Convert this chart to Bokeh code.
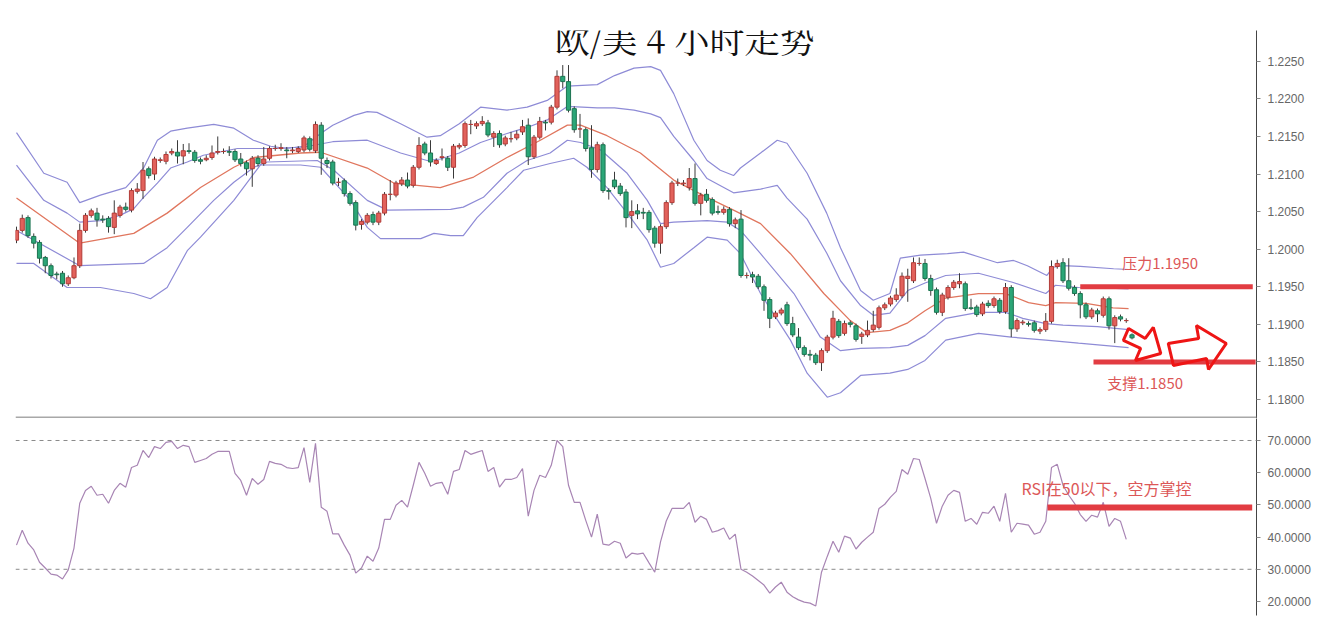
from bokeh.plotting import figure
from bokeh.models import Range1d, FixedTicker, NumeralTickFormatter, Span, Label, ColumnDataSource
from bokeh.layouts import column
from bokeh.embed import file_html
from bokeh.resources import INLINE

# ---------------- data ----------------
open_ = [1.2012,1.2025,1.2042,1.2017,1.2009,1.1989,1.1978,1.1967,1.1968,1.1954,
         1.1962,1.1978,1.2025,1.2045,1.2048,1.2040,1.2041,1.2029,1.2045,1.2056,
         1.2052,1.2077,1.2078,1.2107,1.2100,1.2118,1.2117,1.2128,1.2129,1.2124,
         1.2131,1.2129,1.2119,1.2119,1.2122,1.2129,1.2130,1.2130,1.2130,1.2120,
         1.2115,1.2107,1.2121,1.2114,1.2121,1.2134,1.2134,1.2132,1.2131,1.2130,
         1.2132,1.2147,1.2131,1.2165,1.2118,1.2116,1.2089,1.2091,1.2074,1.2062,
         1.2033,1.2036,1.2046,1.2036,1.2048,1.2073,1.2072,1.2087,1.2092,1.2085,
         1.2109,1.2140,1.2128,1.2114,1.2122,1.2121,
         1.2109,1.2136,1.2138,1.2166,1.2164,1.2167,1.2168,1.2149,1.2154,1.2140,
         1.2147,1.2148,1.2156,1.2165,1.2123,1.2149,1.2169,1.2169,1.2189,1.2230,
         1.2223,1.2187,1.2160,1.2159,1.2135,1.2106,1.2139,1.2078,1.2092,1.2084,
         1.2076,1.2045,1.2051,1.2049,1.2049,1.2028,1.2008,1.2030,1.2062,1.2088,
         1.2087,1.2082,1.2094,1.2061,1.2073,1.2066,1.2050,1.2049,1.2053,1.2034,
         1.2040,1.1965,1.1966,1.1964,1.1950,1.1933,1.1910,1.1915,1.1926,1.1901,
         1.1883,1.1869,1.1860,1.1859,1.1849,1.1865,1.1883,1.1904,1.1888,1.1902,
         1.1898,1.1884,1.1886,1.1893,1.1896,1.1922,1.1927,
         1.1933,1.1938,1.1961,1.1958,1.1981,1.1981,1.1961,1.1946,1.1916,1.1936,
         1.1949,1.1954,1.1954,1.1922,1.1923,1.1914,1.1928,1.1925,1.1932,1.1917,
         1.1949,1.1894,1.1902,1.1901,1.1902,1.1891,1.1893,1.1904,1.1977,1.1982,
         1.1958,1.1949,1.1941,1.1926,1.1910,1.1918,1.1912,1.1934,1.1898,1.1910,
         1.1905,1.1886]
close_ = [1.2025,1.2041,1.2018,1.2008,1.1988,1.1978,1.1965,1.1966,1.1954,1.1962,
          1.1978,1.2025,1.2045,1.2051,1.2039,1.2039,1.2030,1.2048,1.2056,1.2053,
          1.2078,1.2080,1.2105,1.2098,1.2120,1.2119,1.2126,1.2130,1.2124,1.2131,
          1.2130,1.2118,1.2117,1.2121,1.2128,1.2130,1.2130,1.2129,1.2119,1.2114,
          1.2107,1.2121,1.2114,1.2120,1.2134,1.2134,1.2135,1.2131,1.2132,1.2134,
          1.2148,1.2133,1.2166,1.2121,1.2114,1.2088,1.2089,1.2074,1.2061,1.2032,
          1.2037,1.2045,1.2036,1.2048,1.2073,1.2073,1.2088,1.2092,1.2084,1.2109,
          1.2138,1.2128,1.2116,1.2118,1.2123,1.2109,
          1.2137,1.2138,1.2167,1.2166,1.2167,1.2170,1.2152,1.2154,1.2139,1.2148,
          1.2147,1.2153,1.2163,1.2123,1.2149,1.2170,1.2168,1.2189,1.2230,1.2223,
          1.2185,1.2159,1.2160,1.2134,1.2106,1.2139,1.2078,1.2077,1.2083,1.2074,
          1.2042,1.2050,1.2047,1.2048,1.2026,1.2008,1.2030,1.2062,1.2088,1.2088,
          1.2088,1.2094,1.2061,1.2072,1.2065,1.2048,1.2049,1.2053,1.2034,1.2039,
          1.1965,1.1965,1.1963,1.1950,1.1932,1.1908,1.1915,1.1919,1.1901,1.1886,
          1.1869,1.1860,1.1859,1.1849,1.1865,1.1883,1.1908,1.1885,1.1901,1.1900,
          1.1880,1.1887,1.1892,1.1899,1.1922,1.1926,1.1935,
          1.1939,1.1964,1.1964,1.1982,1.1981,1.1961,1.1945,1.1916,1.1939,1.1949,
          1.1956,1.1957,1.1921,1.1921,1.1913,1.1927,1.1925,1.1934,1.1917,1.1949,
          1.1894,1.1905,1.1903,1.1900,1.1892,1.1893,1.1904,1.1977,1.1981,1.1958,
          1.1948,1.1941,1.1926,1.1910,1.1919,1.1914,1.1934,1.1898,1.1909,1.1907,
          1.1905,1.1882]
high_ = [1.2030,1.2046,1.2045,1.2021,1.2012,1.1991,1.1981,1.1970,1.1971,1.1965,
         1.1989,1.2034,1.2048,1.2054,1.2055,1.2045,1.2044,1.2065,1.2059,1.2062,
         1.2081,1.2088,1.2116,1.2110,1.2123,1.2122,1.2130,1.2134,1.2145,1.2140,
         1.2141,1.2132,1.2122,1.2125,1.2138,1.2150,1.2134,1.2137,1.2133,1.2128,
         1.2118,1.2124,1.2125,1.2136,1.2137,1.2139,1.2141,1.2136,1.2136,1.2137,
         1.2151,1.2150,1.2170,1.2169,1.2122,1.2119,1.2095,1.2094,1.2077,1.2065,
         1.2040,1.2048,1.2050,1.2051,1.2076,1.2092,1.2091,1.2096,1.2102,1.2112,
         1.2149,1.2143,1.2145,1.2121,1.2134,1.2124,
         1.2140,1.2141,1.2170,1.2172,1.2170,1.2177,1.2172,1.2157,1.2158,1.2151,
         1.2156,1.2158,1.2172,1.2174,1.2152,1.2176,1.2172,1.2192,1.2238,1.2245,
         1.2245,1.2190,1.2180,1.2162,1.2165,1.2143,1.2142,1.2081,1.2103,1.2088,
         1.2080,1.2065,1.2060,1.2055,1.2052,1.2031,1.2033,1.2065,1.2091,1.2094,
         1.2092,1.2108,1.2114,1.2075,1.2080,1.2069,1.2058,1.2057,1.2056,1.2042,
         1.2052,1.1969,1.1970,1.1967,1.1953,1.1936,1.1918,1.1922,1.1930,1.1910,
         1.1895,1.1872,1.1866,1.1862,1.1868,1.1886,1.1918,1.1907,1.1905,1.1905,
         1.1901,1.1890,1.1905,1.1918,1.1925,1.1929,1.1938,
         1.1948,1.1969,1.1974,1.1989,1.1989,1.1987,1.1966,1.1949,1.1942,1.1952,
         1.1959,1.1968,1.1957,1.1934,1.1926,1.1930,1.1932,1.1937,1.1935,1.1955,
         1.1952,1.1908,1.1906,1.1904,1.1905,1.1896,1.1915,1.1985,1.1986,1.1988,
         1.1988,1.1952,1.1944,1.1929,1.1922,1.1921,1.1937,1.1937,1.1912,1.1913,
         1.1908,1.1888]
low_ = [1.2008,1.2022,1.2015,1.2001,1.1981,1.1968,1.1961,1.1960,1.1950,1.1951,
        1.1960,1.1975,1.2022,1.2042,1.2030,1.2035,1.2022,1.2020,1.2042,1.2050,
        1.2049,1.2074,1.2067,1.2094,1.2092,1.2115,1.2113,1.2125,1.2114,1.2113,
        1.2127,1.2115,1.2113,1.2117,1.2119,1.2126,1.2127,1.2124,1.2116,1.2110,
        1.2098,1.2083,1.2110,1.2111,1.2118,1.2131,1.2131,1.2121,1.2128,1.2128,
        1.2129,1.2130,1.2128,1.2099,1.2108,1.2085,1.2084,1.2070,1.2058,1.2025,
        1.2026,1.2033,1.2032,1.2032,1.2045,1.2065,1.2069,1.2084,1.2081,1.2082,
        1.2106,1.2125,1.2110,1.2112,1.2118,1.2104,
        1.2094,1.2133,1.2135,1.2153,1.2160,1.2164,1.2149,1.2136,1.2135,1.2137,
        1.2142,1.2145,1.2152,1.2112,1.2120,1.2146,1.2158,1.2166,1.2186,1.2214,
        1.2182,1.2155,1.2148,1.2130,1.2095,1.2102,1.2075,1.2066,1.2080,1.2071,
        1.2029,1.2028,1.2040,1.2040,1.2022,1.2002,1.1994,1.2027,1.2059,1.2084,
        1.2084,1.2078,1.2058,1.2045,1.2062,1.2045,1.2046,1.2046,1.2030,1.2028,
        1.1962,1.1961,1.1955,1.1947,1.1918,1.1895,1.1907,1.1912,1.1898,1.1883,
        1.1866,1.1857,1.1852,1.1846,1.1838,1.1862,1.1880,1.1882,1.1885,1.1896,
        1.1877,1.1874,1.1883,1.1890,1.1893,1.1919,1.1924,
        1.1930,1.1935,1.1930,1.1955,1.1978,1.1958,1.1938,1.1913,1.1911,1.1933,
        1.1946,1.1948,1.1918,1.1919,1.1910,1.1911,1.1922,1.1922,1.1914,1.1914,
        1.1883,1.1890,1.1899,1.1897,1.1889,1.1887,1.1890,1.1901,1.1974,1.1955,
        1.1945,1.1938,1.1908,1.1907,1.1907,1.1903,1.1909,1.1893,1.1875,1.1904,
        1.1902,1.1880]

# Bollinger band lines, read as (candle index, price) points
ou_x = [0,4.75,8.8,11,14.6,19,22.1,24.5,26.8,29.7,34.3,37.8,41.2,44.2,47,50,52.9,55,58.7,61,
        62.7,66.8,71.4,73.7,77,80.7,85.3,88.8,92.3,95.8,101,104,107.4,110.3,112,114.3,117.8,120.1,122.4,124.7,
        125.9,129.4,132.3,134,137.5,140.9,143.3,146.8,149,151.9,153.7,157.2,161.9,164.7,167.7,170.6,173.4,175.8,179.2,180.3,
        181.9,185,190.8,193.4]
ou_y = [1.2155,1.2101,1.2089,1.2062,1.2072,1.2082,1.2108,1.2145,1.2157,1.2161,1.2166,1.2161,1.2145,1.2137,1.2134,1.2137,1.2154,1.2165,1.2178,1.2183,
        1.2182,1.2167,1.2149,1.2151,1.2167,1.2189,1.2185,1.2189,1.2198,1.2217,1.2219,1.2231,1.2241,1.2243,1.2238,1.2207,1.2145,1.2118,1.2105,1.2098,
        1.2108,1.2128,1.2145,1.2141,1.2101,1.2048,1.2002,1.1945,1.1932,1.1941,1.1988,1.1992,1.1994,1.1996,1.1989,1.1982,1.1985,1.1978,1.1965,1.1976,
        1.1978,1.1977,1.1974,1.1973]
iu_x = [0,4.75,8.8,11,14.6,18,20.4,22.1,24.5,26.8,29.7,32.5,38.4,44.2,50,55,61,66.8,71.4,73.7,
        77,80.7,85.3,88.8,92.3,95.8,101,104,107.4,110.3,112,114.3,117.8,120.1,124.7,129.4,132.3,134,137.5,140.9,
        143.3,146.8,149,151.9,155,158,161.6,167.3,173.2,179,180.7,184.7,190,193.4]
iu_y = [1.2112,1.2065,1.2048,1.2036,1.2038,1.2045,1.2054,1.2069,1.2088,1.2108,1.2116,1.2125,1.2134,1.2134,1.2136,1.2143,1.2145,1.2128,1.2118,1.2120,
        1.2128,1.2142,1.2154,1.2162,1.2172,1.2190,1.2188,1.2188,1.2185,1.2180,1.2175,1.2150,1.2118,1.2094,1.2075,1.2080,1.2085,1.2068,1.2040,1.1995,
        1.1958,1.1925,1.1912,1.1915,1.1945,1.1955,1.1965,1.1968,1.1956,1.1941,1.1952,1.1949,1.1948,1.1947]
mid_x = [0,11,20.4,26.2,32,37.8,41.3,49.4,52.9,61,65.6,73.7,79.5,85.3,91.1,95.8,98.1,102.7,108.5,114.3,
         120.1,124.7,129.4,134.6,140.4,145,147.9,151.9,155,158,161.6,167.3,172,176,179,180.7,186,190.7,193.4]
mid_y = [1.2068,1.2008,1.2021,1.2048,1.2082,1.2109,1.2122,1.2128,1.2129,1.2108,1.2088,1.2082,1.2096,1.2122,1.2145,1.2165,1.2165,1.2151,1.2128,1.2092,
         1.2069,1.2052,1.2034,1.1994,1.1941,1.1905,1.1889,1.1892,1.1902,1.1918,1.1935,1.1941,1.1941,1.1929,1.1925,1.1929,1.1928,1.1922,1.1921]
il_x = [0,11,22.1,26.2,29.7,34.3,37.8,41.3,43.6,52.3,55.2,61,64.5,75.5,77.7,81.2,85.3,88.8,92.8,95.8,
        98.1,101.6,106.2,109.7,112,114.3,120.1,123.6,125.9,129.4,135.2,139.8,143.3,146.8,151.9,155,158,161.6,167.3,172,
        175,179,182,188,193.4]
il_y = [1.2025,1.1978,1.1981,1.2002,1.2029,1.2065,1.2089,1.2109,1.2116,1.2118,1.2105,1.2065,1.2052,1.2053,1.2056,1.2069,1.2101,1.2118,1.2128,1.2145,
        1.2142,1.2132,1.2101,1.2065,1.2034,1.2036,1.2038,1.2036,1.2025,1.1994,1.1941,1.1883,1.1865,1.1868,1.1869,1.1872,1.1885,1.1908,1.1916,1.1916,
        1.1908,1.1901,1.1899,1.1897,1.1893]
ol_x = [0,3,8.8,14.6,20.4,23.3,26.2,29.7,32,37.8,42.4,49.4,52.9,58.1,61,63.3,70.3,72.6,75.5,77.7,
        80.1,85.3,88.2,92.8,96.9,99.2,102.7,106.2,109.7,112,114.3,117.8,120.1,123.6,125.9,129.4,134.6,137.5,141,143.3,
        146.8,151.9,155,158,161.6,167.3,173,179,184.7,193.4]
ol_y = [1.1981,1.1981,1.1949,1.1949,1.1941,1.1934,1.1949,1.1998,1.2016,1.2065,1.2112,1.2112,1.2109,1.2065,1.2029,1.2014,1.2014,1.2021,1.2018,1.2018,
        1.2042,1.2082,1.2105,1.2114,1.2121,1.2109,1.2082,1.2048,1.2012,1.1976,1.1981,1.2002,1.2016,1.2012,1.1994,1.1941,1.1879,1.1835,1.1803,1.1809,
        1.1832,1.1835,1.1840,1.1852,1.1879,1.1888,1.1883,1.1879,1.1875,1.1869]

rsi = [37.5,42.1,38.1,36,32.2,30.4,28.5,28.2,27,29.8,
       36.6,50.5,54.5,55.8,53,53.3,50.5,54.5,56.7,55.5,
       61.6,62.3,66.9,64.7,68.1,67.5,69.4,69.7,67.5,68.5,
       68.1,63.2,63.8,64.4,65.7,66.6,66.6,66.6,59.8,57.6,
       53,58.2,56.4,57.9,63.5,62.9,62.6,61.6,61.3,61.6,
       67.8,57,69.1,49.3,48,41,41,37.5,34.4,28.8,
       30.4,34.1,32.5,36.6,45.5,45.5,49.9,51.4,49.3,56.1,
       63.2,59.8,55.8,56.7,57,53.3,60.4,61,66.9,65.7,
       66.3,66.9,60.4,61.6,55.5,57.9,57.9,58.5,61.3,46.5,
       54.5,59.2,58.5,62.3,70,68.1,56.1,50.8,50.8,45.2,
       40,47.1,37.8,37.5,38.7,38.1,33.5,35,34.7,35,
       32,29.1,38.5,45,48.9,48.9,48.9,50.8,44.6,46.5,
       45.5,41.5,42,42.8,39.3,40.9,30,29.1,27.9,26.5,
       25.1,22.6,24.5,26,22.9,21.5,20.5,19.8,19.5,18.6,
       29.1,34,38.7,35.3,40.3,39.7,36.3,38.4,40,41.5,
       48.9,50.2,52.4,54.2,61,59.5,64.4,64.1,58.2,52,
       44.3,49.6,53,54.5,53.9,44.9,45.8,44,47.7,47.4,
       49.6,44.9,53.6,41.5,44.3,44,43.7,40.9,41.5,44.9,
       61.6,62.6,56.1,53,50.5,47,44.9,46.8,46.2,50.8,
       43.3,45.8,44.9,39.3]

price_ticks = [1.1800, 1.1850, 1.1900, 1.1950, 1.2000, 1.2050, 1.2100, 1.2150, 1.2200, 1.2250]
rsi_ticks = [20, 30, 40, 50, 60, 70]
rsi_levels = [70, 30]
resistance = 1.1950
support = 1.1850
rsi_mark = 49.2
title_text = "欧/美 4 小时走势"
res_text = "压力1.1950"
sup_text = "支撑1.1850"
rsi_text = "RSI在50以下，空方掌控"

# hollow arrow annotations (candle index, price)
arrow1_x = [193.4, 196.3, 197.7, 199.0, 194.6, 195.5, 192.5]
arrow1_y = [1.18945, 1.18812, 1.18959, 1.18612, 1.18519, 1.18679, 1.18786]
arrow2_x = [200.3, 205.6, 205.2, 210.4, 207.3, 206.96, 201.2]
arrow2_y = [1.18746, 1.18812, 1.18985, 1.18746, 1.18399, 1.18546, 1.18453]

# ---------------- build ----------------
idx = list(range(len(close_)))
up = [c >= o for o, c in zip(open_, close_)]
src = ColumnDataSource(dict(
    x=idx, o=open_, h=high_, l=low_, c=close_,
    top=[max(o, c) for o, c in zip(open_, close_)],
    bot=[min(o, c) for o, c in zip(open_, close_)],
    fill=["#e2615b" if u else "#2ba677" for u in up],
    edge=["#b23c38" if u else "#1c7350" for u in up],
))

x_rng = Range1d(-0.174, 215.65)
FONT = "Liberation Sans"
RED = "#e23c42"
TXT = "#dc5757"

p = figure(width=1318, height=418, x_range=x_rng, y_range=Range1d(1.17747, 1.2291),
           output_backend="svg", toolbar_location=None, y_axis_location="right",
           min_border_left=15, min_border_right=62, min_border_top=30, min_border_bottom=0)
p.xaxis.visible = False
p.grid.visible = False
p.outline_line_color = None
p.background_fill_color = "white"

band_col = "#8e8bd6"
p.line(ou_x, ou_y, line_color=band_col, line_width=1.2)
p.line(iu_x, iu_y, line_color=band_col, line_width=1.2)
p.line(il_x, il_y, line_color=band_col, line_width=1.2)
p.line(ol_x, ol_y, line_color=band_col, line_width=1.2)
p.line(mid_x, mid_y, line_color="#e0765e", line_width=1.3)

p.segment(x0="x", y0="h", x1="x", y1="l", source=src, line_color="#3a3a3a", line_width=1)
p.vbar(x="x", top="top", bottom="bot", width=0.72, source=src,
       fill_color="fill", line_color="edge", line_width=1)

p.segment(x0=[185.0], y0=[resistance], x1=[215.0], y1=[resistance], line_color=RED, line_width=5)
p.segment(x0=[187.3], y0=[support], x1=[215.5], y1=[support], line_color=RED, line_width=5)
p.patch(arrow1_x, arrow1_y, fill_alpha=0, line_color="#ee1515", line_width=3)
p.patch(arrow2_x, arrow2_y, fill_alpha=0, line_color="#ee1515", line_width=3)

p.add_layout(Label(x=192.3, y=1.19824, text=res_text, text_font="Noto Sans CJK SC",
                   text_font_size="15px", text_color=TXT, text_baseline="middle"))
p.add_layout(Label(x=189.7, y=1.18226, text=sup_text, text_font="Noto Sans CJK SC",
                   text_font_size="15px", text_color=TXT, text_baseline="middle"))
p.add_layout(Label(x=116.2, y=1.22806, text=title_text, text_font="Noto Serif CJK SC, Noto Sans CJK SC",
                   text_font_size="35px", text_color="#111111", text_align="center",
                   text_baseline="middle"))
p.add_layout(Span(location=1.1776, dimension="width", line_color="#a8a8a8", line_width=2))

ax = p.yaxis[0]
ax.ticker = FixedTicker(ticks=price_ticks)
ax.formatter = NumeralTickFormatter(format="0.0000")

q = figure(width=1318, height=207, x_range=x_rng, y_range=Range1d(15.65, 76.83),
           output_backend="svg", toolbar_location=None, y_axis_location="right",
           min_border_left=15, min_border_right=62, min_border_top=0, min_border_bottom=10)
q.xaxis.visible = False
q.grid.visible = False
q.outline_line_color = None
for lv in rsi_levels:
    q.add_layout(Span(location=lv, dimension="width", line_color="#8a8a8a",
                      line_width=1, line_dash="4 4"))
q.line(list(range(len(rsi))), rsi, line_color="#a885b4", line_width=1.2)
q.segment(x0=[179.3], y0=[rsi_mark], x1=[214.9], y1=[rsi_mark], line_color=RED, line_width=6)
q.add_layout(Label(x=174.8, y=55.4, text=rsi_text, text_font="Noto Sans CJK SC",
                   text_font_size="16px", text_color=TXT, text_baseline="middle"))
bx = q.yaxis[0]
bx.ticker = FixedTicker(ticks=rsi_ticks)
bx.formatter = NumeralTickFormatter(format="0.0000")

for a in (ax, bx):
    a.axis_line_color = "#444444"
    a.axis_line_width = 1
    a.major_tick_out = 4
    a.major_tick_in = 0
    a.major_tick_line_color = "#888888"
    a.minor_tick_line_color = None
    a.major_label_text_font = FONT
    a.major_label_text_font_size = "12px"
    a.major_label_text_color = "#666666"
    a.major_label_standoff = 7

layout = column(p, q, spacing=0)
open("out.html", "w").write(file_html(layout, INLINE))
